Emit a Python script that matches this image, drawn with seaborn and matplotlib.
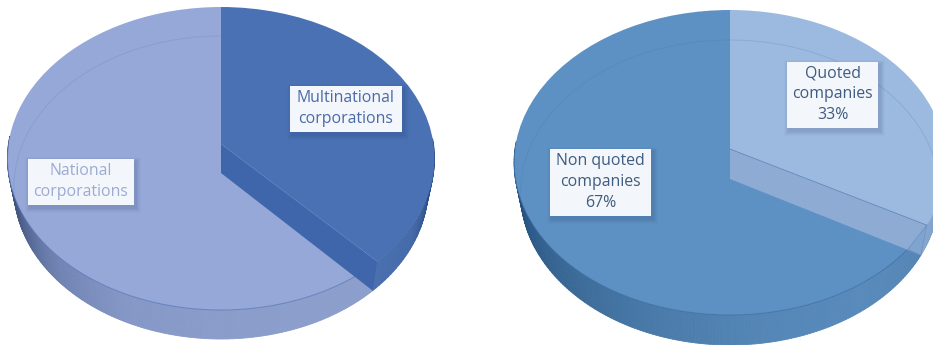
import numpy as np
import matplotlib
matplotlib.use("Agg")
import matplotlib.pyplot as plt
from matplotlib.collections import PolyCollection
from matplotlib.patches import Polygon, Rectangle
from matplotlib.transforms import Transform
import seaborn as sns

# Ownership shares (left) and listing status (right)
corp_labels = ["Multinational\ncorporations", "National\ncorporations"]
corp_values = [38, 62]
listing_labels = ["Quoted\ncompanies\n33%", "Non quoted\ncompanies\n67%"]
listing_values = [33, 67]

sns.set_theme(style="white")
plt.rcParams["font.family"] = ["Open Sans", "DejaVu Sans"]


class TiltedDisc(Transform):
    """Projects the unit disc onto the page as a tilted, receding plate."""
    input_dims = 2
    output_dims = 2
    is_separable = False
    has_inverse = False

    def __init__(self, cx, vy, a, b, k, xscale=1.0):
        super().__init__()
        self.cx, self.vy, self.a, self.b, self.k, self.xscale = cx, vy, a, b, k, xscale

    def transform_non_affine(self, values):
        values = np.asarray(values, dtype=float)
        u, v = values[:, 0], values[:, 1]
        d = 1 + self.k * v
        return np.column_stack((self.cx + self.xscale * self.b * u / d,
                                self.vy - self.a * v / d))

    def at(self, deg):
        t = np.radians(np.atleast_1d(deg))
        return self.transform_non_affine(np.column_stack((np.cos(t), np.sin(t))))


def wall(ax, top, bottom, deg, palette, z):
    """Side of the plate between two discs, shaded strip by strip."""
    p, q = top.at(deg), bottom.at(deg)
    quads = [[p[i], p[i + 1], q[i + 1], q[i]] for i in range(len(deg) - 1)]
    shades = sns.blend_palette(palette, n_colors=len(quads))
    ax.add_collection(PolyCollection(quads, facecolors=shades, edgecolors=shades,
                                     linewidths=0.6, zorder=z))


def label(ax, text, box, color):
    x0, y0, x1, y1 = box
    for grow, alpha in [(5, 0.025), (4, 0.03), (3, 0.035), (2, 0.04), (1, 0.05)]:
        ax.add_patch(Rectangle((x0 + 2 - grow, y0 + 3 - grow),
                               x1 - x0 + 2 * grow, y1 - y0 + 2 * grow,
                               fc="#1f3560", ec="none", alpha=alpha, zorder=8))
    ax.add_patch(Rectangle((x0, y0), x1 - x0, y1 - y0, fc="#f3f6fb", ec="none",
                           zorder=9))
    ax.text((x0 + x1) / 2, (y0 + y1) / 2 - 0.5, text, ha="center", va="center",
            fontsize=11.4, color=color, linespacing=1.38, zorder=10)


def plate(ax, values, geom, depth, wedge_colors, face_color, ring_color,
          front_palette, side_palette):
    top = TiltedDisc(*geom)
    bottom = TiltedDisc(geom[0], geom[1] + depth, *geom[2:], xscale=0.97)

    wedges, _ = ax.pie(values, startangle=90, counterclock=False,
                       colors=wedge_colors, frame=True, radius=1,
                       wedgeprops=dict(linewidth=0))
    cut = wedges[0].theta1

    wall(ax, top, bottom, np.linspace(cut, -183, 180), front_palette, 1)
    wall(ax, top, bottom, np.linspace(cut, 2, 40), side_palette, 1)

    for w in wedges:
        w.set_transform(top + ax.transData)
        w.set_zorder(2)

    # Far rim of the lower disc showing through the translucent top
    rim = bottom.at(np.linspace(-8, 188, 200))
    ax.plot(rim[:, 0], rim[:, 1], color=ring_color, lw=0.7, alpha=0.2, zorder=3)
    # Near edge of the top disc
    near = top.at(np.linspace(-180, cut, 160))
    ax.plot(near[:, 0], near[:, 1], color=ring_color, lw=0.7, alpha=0.75, zorder=3)

    # Cut face of the smaller slice
    inner_top, inner_low = (geom[0], geom[1]), (geom[0], geom[1] + depth)
    edge_top, edge_low = top.at(cut)[0], bottom.at(cut)[0]
    ax.add_patch(Polygon([inner_top, edge_top, edge_low, inner_low],
                         fc=face_color, ec="none", zorder=4))
    ax.plot([inner_top[0], edge_top[0]], [inner_top[1], edge_top[1]],
            color=ring_color, lw=0.6, alpha=0.55, zorder=5)
    return top, bottom, cut


fig = plt.figure(figsize=(9.33, 3.45), dpi=100, facecolor="white")
ax = fig.add_axes([0, 0, 1, 1])

plate(ax, corp_values, (221, 144, 150.1, 212.5, 0.0957), 29,
      ["#4a71b4", "#95a8d7"], "#3f65aa", "#5a78b8",
      ["#8c9ecb", "#8c9ecb", "#8a9cca", "#8597c6", "#6f82b2", "#4a5d88", "#2f4268"],
      ["#4a6fae", "#456aa9", "#32558f", "#1f3c70"])

top_r, bottom_r, cut_r = plate(
    ax, listing_values, (730, 149, 151.3, 215, 0.0885), 30,
    ["#9cbae0", "#5e91c3"], "#8dabd3", "#3f6ea8",
    ["#5485b4", "#588abb", "#5487b7", "#4b7cab", "#3d6c9a", "#2d5a88", "#1e4570"],
    ["#86a8d0", "#7c9ec8", "#5c7fa8"])

# Small corner where the inner rim crosses the cut face
corner = top_r.at(cut_r)[0]
low = bottom_r.at(cut_r)[0]
ax.add_patch(Polygon([corner, low, (low[0] - 13, low[1] - 6)],
                     fc="#7fa4cf", ec="#6e90bd", lw=0.5, zorder=6))

label(ax, corp_labels[0], (290, 86, 402, 132), "#4a6aa8")
label(ax, corp_labels[1], (28, 159, 134, 205), "#9dabd3")
label(ax, listing_labels[0], (787, 62, 878, 128), "#3e5c80")
label(ax, listing_labels[1], (550, 149, 651, 216), "#3e5c80")

ax.set_aspect("auto")
ax.set_xlim(0, 933)
ax.set_ylim(345, 0)
ax.axis("off")

fig.savefig("out.png", dpi=100, facecolor="white")
